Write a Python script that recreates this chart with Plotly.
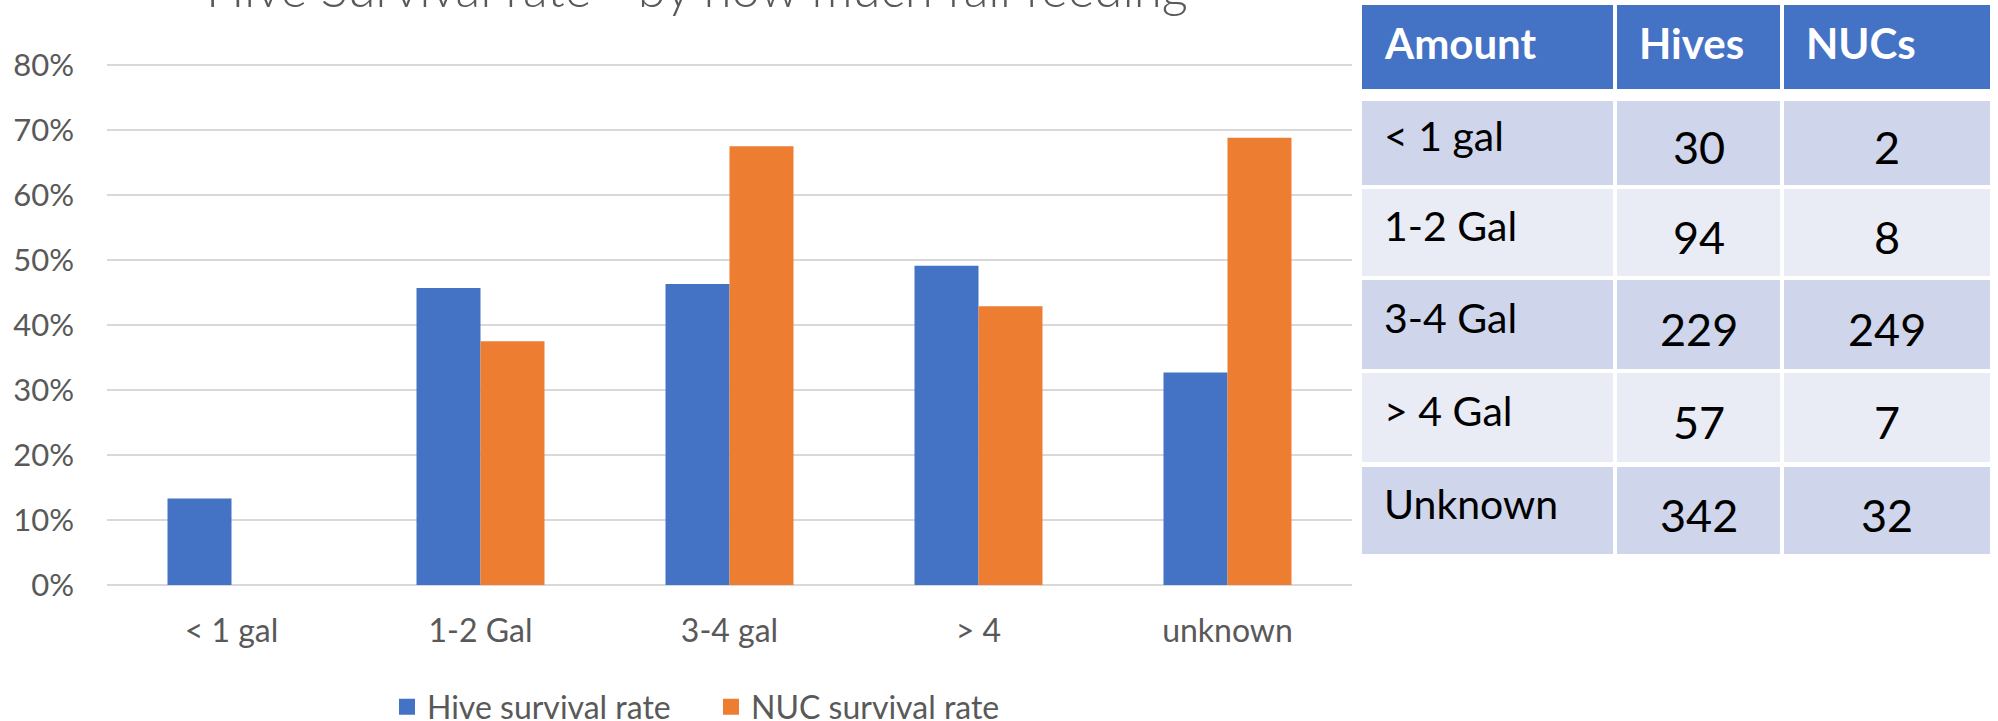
import plotly.graph_objects as go

# ---------------- data ----------------
categories = ["< 1 gal", "1-2 Gal", "3-4 gal", "> 4", "unknown"]
hive_rate = [0.133, 0.457, 0.463, 0.491, 0.327]
nuc_rate = [0.0, 0.375, 0.675, 0.429, 0.688]
series_names = ["Hive survival rate", "NUC survival rate"]
y_tick_vals = [0.0, 0.1, 0.2, 0.3, 0.4, 0.5, 0.6, 0.7, 0.8]
title_text = "Hive Survival rate - by how much fall feeding"

table_header = ["Amount", "Hives", "NUCs"]
table_amount = ["< 1 gal", "1-2 Gal", "3-4 Gal", "> 4 Gal", "Unknown"]
table_hives = [30, 94, 229, 57, 342]
table_nucs = [2, 8, 249, 7, 32]

# ---------------- styles / layout ----------------
BLUE = "#4472C4"
ORANGE = "#ED7D31"
GRAY_TXT = "#595959"
GRID = "#D9D9D9"
ROW_DARK = "#CFD5EA"
ROW_LIGHT = "#E9EBF5"
FONT = "Lato"

W, H = 1998, 721
L, R, T, B = 107, 646, 63, 136
PW = W - L - R
PH = H - T - B
Y_TOP = 0.8 + 2 * 0.8 / 520.0  # keeps the 80% gridline 2px inside the plot


def px_x(px):
    return (px - L) / PW


def px_y(py):
    return (H - B - py) / PH


# table geometry (pixels)
col_edges = [(1362, 1613), (1617, 1780), (1784, 1990)]
row_edges = [(5, 89), (101, 185), (189, 276), (280, 369), (373, 462), (467, 554)]
text_pad = 20

fig = go.Figure()

colors = [BLUE, ORANGE]
for name, vals, col in zip(series_names, [hive_rate, nuc_rate], colors):
    fig.add_trace(go.Bar(
        x=categories, y=vals, name=name, marker=dict(color=col, line=dict(width=0)),
        showlegend=False, hoverinfo="x+y",
    ))
    # legend entry
    fig.add_trace(go.Scatter(
        x=[None], y=[None], mode="markers", name=name,
        marker=dict(symbol="square", size=20, color=col), showlegend=True,
    ))

shapes = []
annotations = []

# title (mostly cut off at the top, as in the reference)
annotations.append(dict(
    text=title_text, xref="paper", yref="paper", x=px_x(697), y=px_y(-12.5),
    xanchor="center", yanchor="middle", showarrow=False,
    font=dict(family=FONT, size=51, color=GRAY_TXT, weight=300),
))

# table
columns = [table_amount, table_hives, table_nucs]
for ci, (x0, x1) in enumerate(col_edges):
    # header
    y0, y1 = row_edges[0]
    shapes.append(dict(type="rect", xref="paper", yref="paper",
                       x0=px_x(x0), x1=px_x(x1), y0=px_y(y1), y1=px_y(y0),
                       fillcolor=BLUE, line=dict(width=0), layer="above"))
    annotations.append(dict(
        text="<b>%s</b>" % table_header[ci], xref="paper", yref="paper",
        x=px_x(x0 + text_pad), y=px_y((y0 + y1) / 2 - 4),
        xanchor="left", yanchor="middle", showarrow=False,
        font=dict(family=FONT, size=42, color="white"),
    ))
    for ri, val in enumerate(columns[ci]):
        y0, y1 = row_edges[ri + 1]
        fill = ROW_DARK if ri % 2 == 0 else ROW_LIGHT
        shapes.append(dict(type="rect", xref="paper", yref="paper",
                           x0=px_x(x0), x1=px_x(x1), y0=px_y(y1), y1=px_y(y0),
                           fillcolor=fill, line=dict(width=0), layer="above"))
        if ci == 0:
            annotations.append(dict(
                text=str(val), xref="paper", yref="paper",
                x=px_x(x0 + text_pad), y=px_y((y0 + y1) / 2 - 7),
                xanchor="left", yanchor="middle", showarrow=False,
                font=dict(family=FONT, size=41, color="black"),
            ))
        else:
            annotations.append(dict(
                text=str(val), xref="paper", yref="paper",
                x=px_x((x0 + x1) / 2), y=px_y((y0 + y1) / 2 + 4),
                xanchor="center", yanchor="middle", showarrow=False,
                font=dict(family=FONT, size=45, color="black"),
            ))

fig.update_layout(
    width=W, height=H,
    margin=dict(l=L, r=R, t=T, b=B, autoexpand=False),
    paper_bgcolor="white", plot_bgcolor="white",
    barmode="group", bargap=0.486, bargroupgap=0,
    font=dict(family=FONT, color=GRAY_TXT),
    shapes=shapes, annotations=annotations,
    legend=dict(
        orientation="h", xref="container", yref="container",
        x=387 / W, y=1 - 707 / H, xanchor="left", yanchor="middle",
        entrywidth=279, entrywidthmode="pixels", itemsizing="trace",
        font=dict(family=FONT, size=32, color=GRAY_TXT),
        bgcolor="rgba(0,0,0,0)", traceorder="normal",
    ),
    xaxis=dict(
        type="category", range=[-0.5, 4.5], showgrid=False, showline=False,
        zeroline=False, ticks="", ticklabelstandoff=24,
        tickfont=dict(family=FONT, size=32, color=GRAY_TXT), fixedrange=True,
    ),
    yaxis=dict(
        range=[0, Y_TOP], tickvals=y_tick_vals, tickformat=".0%",
        showgrid=True, gridcolor=GRID, gridwidth=2,
        zeroline=True, zerolinecolor=GRID, zerolinewidth=2,
        showline=False, ticks="", ticklabelstandoff=32,
        tickfont=dict(family=FONT, size=31, color=GRAY_TXT), fixedrange=True,
    ),
)

fig.write_html(
    "out.html",
    config={"displayModeBar": False},
    post_script="document.body.style.margin='0';document.body.style.overflow='hidden';",
)
